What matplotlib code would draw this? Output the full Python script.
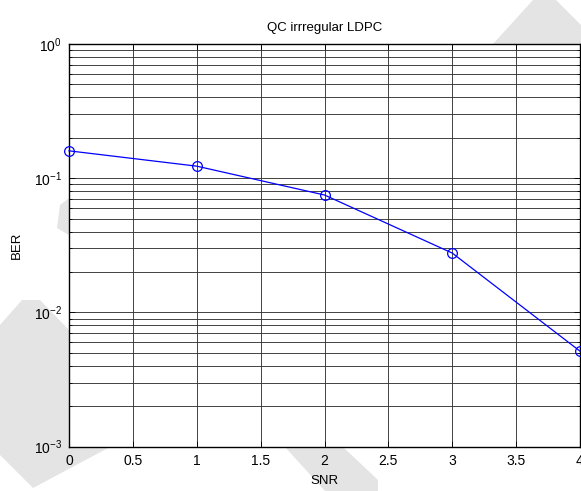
import matplotlib
matplotlib.use("Agg")
import matplotlib.pyplot as plt
from matplotlib.patches import Polygon
from matplotlib.ticker import LogLocator, NullFormatter, FixedLocator

plt.rcParams['font.family'] = ['Liberation Sans', 'DejaVu Sans']
plt.rcParams['mathtext.fontset'] = 'custom'
plt.rcParams['mathtext.rm'] = 'Liberation Sans'
plt.rcParams['mathtext.it'] = 'Liberation Sans'

snr = [0, 1, 2, 3, 4]
ber = [0.160, 0.123, 0.075, 0.0277, 0.00515]
x_ticks = [0, 0.5, 1, 1.5, 2, 2.5, 3, 3.5, 4]
x_tick_labels = ['0', '0.5', '1', '1.5', '2', '2.5', '3', '3.5', '4']
y_ticks = [1e-3, 1e-2, 1e-1, 1e0]
y_tick_labels = ['$10^{-3}$', '$10^{-2}$', '$10^{-1}$', '$10^{0}$']

W, H = 581, 491
fig = plt.figure(figsize=(W / 100, H / 100), dpi=100)

# faint watermark shapes in the background (pixel coords -> figure fraction)
wm = '#e4e4e4'
shapes_px = [
    [(493, 44), (533, 0), (556, 0), (581, 25), (581, 44)],
    [(285, 447), (343, 447), (378, 480), (378, 491), (325, 491)],
    [(0, 325), (22, 300), (40, 300), (69, 330), (69, 447),
     (110, 447), (33, 488), (0, 455)],
    [(57, 228), (60, 205), (69, 198), (69, 235)],
]
for pts in shapes_px:
    fpts = [(x / W, 1 - y / H) for x, y in pts]
    fig.add_artist(Polygon(fpts, closed=True, transform=fig.transFigure,
                           facecolor=wm, edgecolor='none', zorder=0))

ax = fig.add_axes([69 / W, 1 - 446.7 / H, (580 - 69) / W, (446.7 - 44) / H])
ax.set_facecolor('white')
ax.set_zorder(1)

ax.semilogy(snr, ber, color='#0000ff', linewidth=0.9, marker='o',
            markersize=7, markerfacecolor='none', markeredgecolor='#0000ff',
            markeredgewidth=0.9, zorder=3, clip_on=False)

ax.set_xlim(0, 4)
ax.set_ylim(1e-3, 1e0)
ax.xaxis.set_major_locator(FixedLocator(x_ticks))
ax.set_xticklabels(x_tick_labels)
ax.yaxis.set_major_locator(FixedLocator(y_ticks))
ax.set_yticklabels(y_tick_labels)
ax.yaxis.set_minor_locator(LogLocator(base=10, subs=range(2, 10), numticks=20))
ax.yaxis.set_minor_formatter(NullFormatter())

ax.grid(True, which='major', color='#353535', linewidth=0.65, linestyle='-')
ax.grid(True, which='minor', axis='y', color='#353535', linewidth=0.65, linestyle='-')
ax.set_axisbelow(True)

ax.tick_params(which='both', direction='in', top=True, right=True,
               labelsize=10, color='black', width=0.6, pad=5)
ax.tick_params(which='major', length=4)
ax.tick_params(which='minor', length=2.5)
for s in ax.spines.values():
    s.set_linewidth(1.0)
    s.set_color('black')

ax.set_title('QC irrregular LDPC', fontsize=9.5, pad=9)
ax.set_xlabel('SNR', fontsize=9.5, labelpad=5)
ax.set_ylabel('BER', fontsize=9.5, labelpad=8)

fig.savefig('out.png', dpi=100)
